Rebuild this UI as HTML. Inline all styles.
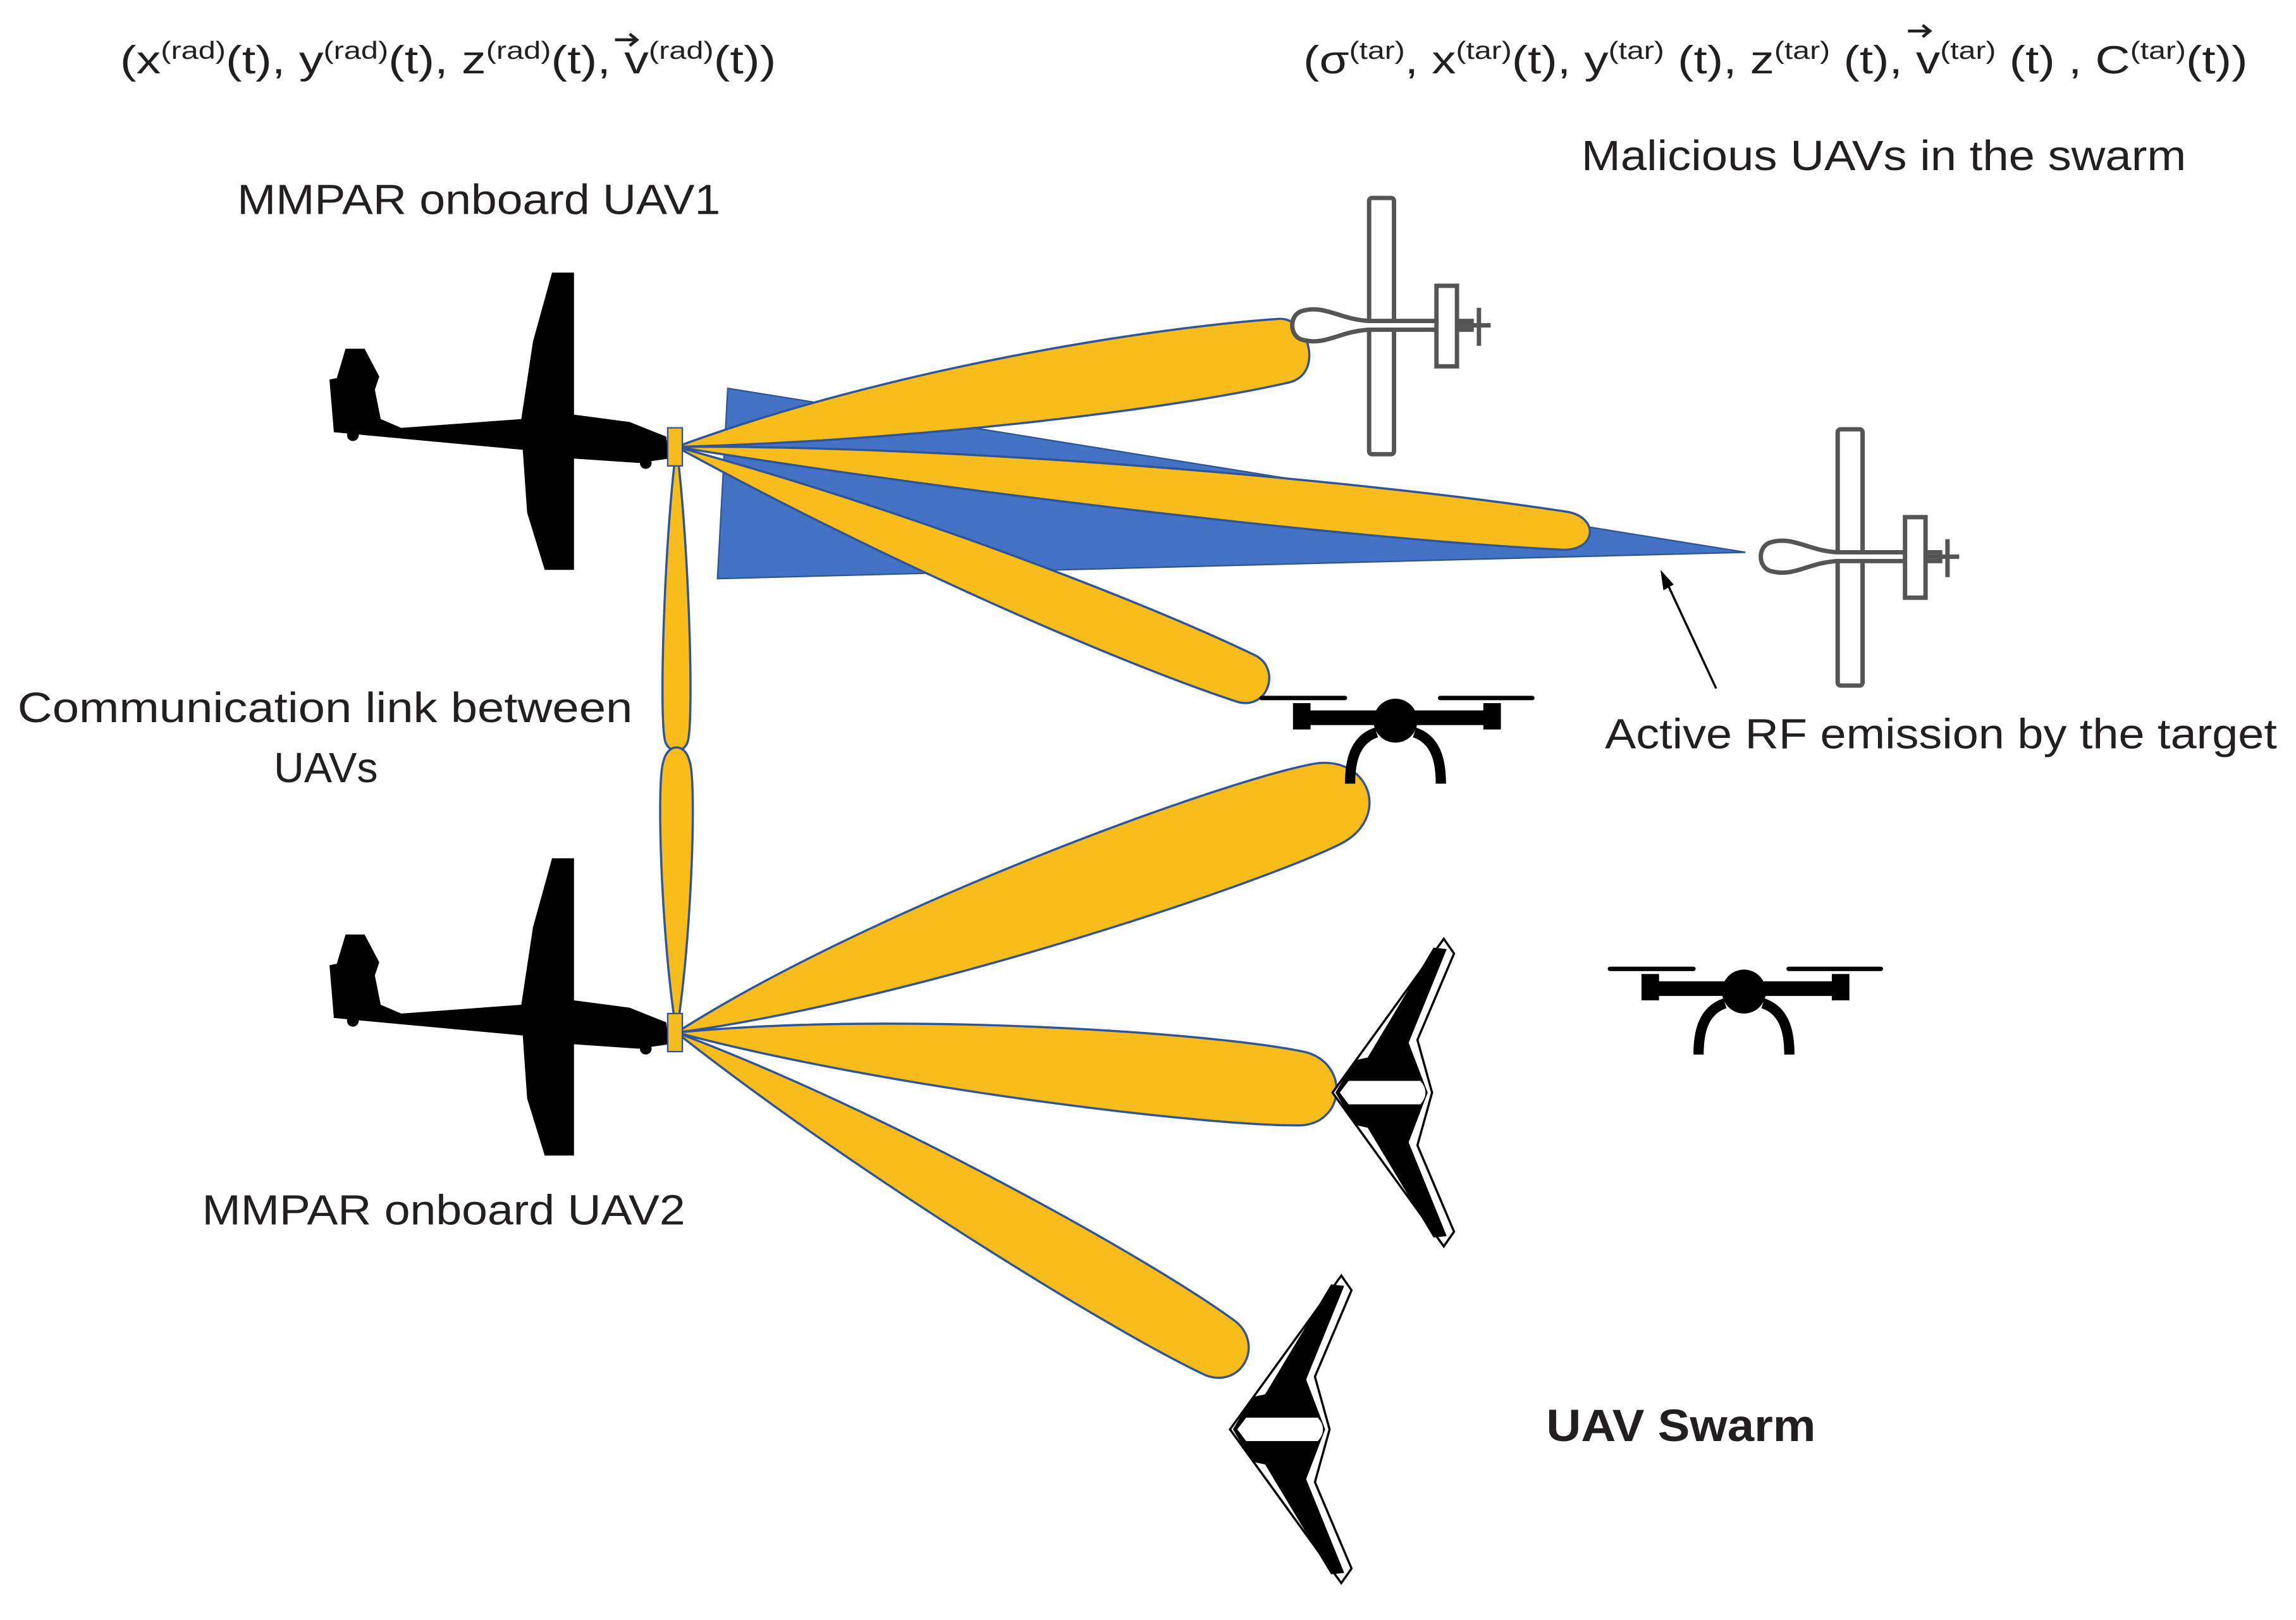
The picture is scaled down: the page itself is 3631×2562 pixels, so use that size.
<!DOCTYPE html>
<html><head><meta charset="utf-8"><style>
html,body{margin:0;padding:0;background:#fff}
svg{display:block}
text{font-family:"Liberation Sans",sans-serif;fill:#231f20}
</style></head><body>
<svg width="3631" height="2562" viewBox="0 0 1568 1106" xmlns="http://www.w3.org/2000/svg">
<defs>
<g id="glider" fill="#000">
 <polygon points="236,238 249,238 259,257 256,266 260,286 274,292 356,286 364,233 377,186 392,186 392,283 430,288 455,298 457,313 436,316 392,313 392,389 372,389 360,350 357,307 249,297 228,295 225,259 230,258"/>
 <circle cx="241" cy="297" r="4"/>
 <circle cx="441" cy="316" r="4"/>
</g>
<g id="outplane" fill="#fff" stroke="#555" stroke-width="3">
 <rect x="935" y="135" width="17" height="175" rx="2"/>
 <path d="M890,212 C880,214 880,230 890,232 C905,236 915,226 935,225 L1005,225 L1005,219 L935,219 C915,218 905,208 890,212 Z"/>
 <rect x="981" y="195" width="14" height="55"/>
 <line x1="1010" y1="210" x2="1010" y2="236"/>
 <line x1="995" y1="222" x2="1018" y2="222"/>
</g>
<g id="quad" fill="#000">
 <rect x="888" y="485" width="132" height="10"/>
 <circle cx="953" cy="492" r="15"/>
 <rect x="883" y="480" width="12" height="18"/>
 <rect x="1013" y="480" width="12" height="18"/>
 <rect x="860" y="475" width="60" height="3" rx="1.5"/>
 <rect x="982" y="475" width="66" height="3" rx="1.5"/>
 <path d="M940,500 C925,505 922,520 922,535" fill="none" stroke="#000" stroke-width="7"/>
 <path d="M966,500 C981,505 984,520 984,535" fill="none" stroke="#000" stroke-width="7"/>
</g>
<g id="fwing">
 <polygon points="910,746 986,641 993,651 968,710 978,746 968,782 993,841 986,851" fill="#fff" stroke="#000" stroke-width="1.5"/>
 <polygon points="912,746 925,724 934,722 979,647 988,648 962,712 975,746 962,780 988,844 979,845 934,770 925,768" fill="#000"/>
 <path d="M921,738 L970,738 Q977,746 970,754 L921,754 L915,746 Z" fill="#fff"/>
</g>
</defs>

<text x="82" y="50" font-size="27" textLength="448" lengthAdjust="spacingAndGlyphs">(x<tspan font-size="17" dy="-10">(rad)</tspan><tspan dy="10">(t), y</tspan><tspan font-size="17" dy="-10">(rad)</tspan><tspan dy="10">(t), z</tspan><tspan font-size="17" dy="-10">(rad)</tspan><tspan dy="10">(t), v</tspan><tspan font-size="17" dy="-10">(rad)</tspan><tspan dy="10">(t))</tspan></text>
<path d="M420,27 L434,27 M430,23 L435,27 L430,31" stroke="#231f20" stroke-width="2" fill="none"/>
<text x="890" y="50" font-size="27" textLength="645" lengthAdjust="spacingAndGlyphs">(σ<tspan font-size="17" dy="-10">(tar)</tspan><tspan dy="10">, x</tspan><tspan font-size="17" dy="-10">(tar)</tspan><tspan dy="10">(t), y</tspan><tspan font-size="17" dy="-10">(tar)</tspan><tspan dy="10"> (t), z</tspan><tspan font-size="17" dy="-10">(tar)</tspan><tspan dy="10"> (t), v</tspan><tspan font-size="17" dy="-10">(tar)</tspan><tspan dy="10"> (t) , C</tspan><tspan font-size="17" dy="-10">(tar)</tspan><tspan dy="10">(t))</tspan></text>
<path d="M1303,21 L1317,21 M1313,17 L1318,21 L1313,25" stroke="#231f20" stroke-width="2" fill="none"/>

<text x="1080" y="116" font-size="29" textLength="413" lengthAdjust="spacingAndGlyphs">Malicious UAVs in the swarm</text>
<text x="162" y="146" font-size="29" textLength="330" lengthAdjust="spacingAndGlyphs">MMPAR onboard UAV1</text>
<text x="12" y="493" font-size="29" textLength="420" lengthAdjust="spacingAndGlyphs">Communication link between</text>
<text x="187" y="534" font-size="29" textLength="71" lengthAdjust="spacingAndGlyphs">UAVs</text>
<text x="1096" y="511" font-size="29" textLength="459" lengthAdjust="spacingAndGlyphs">Active RF emission by the target</text>
<text x="138" y="836" font-size="29" textLength="330" lengthAdjust="spacingAndGlyphs">MMPAR onboard UAV2</text>
<text x="1056" y="984" font-size="31" font-weight="bold" textLength="184" lengthAdjust="spacingAndGlyphs">UAV Swarm</text>

<polygon points="497,265 1192,377 490,395" fill="#4472c4" stroke="#2f5597" stroke-width="1"/>

<g fill="#f8bd1c" stroke="#2f5597" stroke-width="1.5">
 <g transform="translate(462,305) rotate(-9)"><path d="M0,0 C150,-30 330,-30 420,-22 C440,-20 445,20 420,22 C330,28 150,20 0,0 Z"/></g>
 <g transform="translate(462,305) rotate(5.3)"><path d="M0,0 C200,-20 480,-20 610,-12 C632,-10 632,12 610,14 C480,20 200,14 0,0 Z"/></g>
 <g transform="translate(462,305) rotate(22)"><path d="M0,0 C150,-18 330,-22 420,-16 C440,-14 442,16 420,18 C330,24 150,18 0,0 Z"/></g>
 <g transform="translate(462,305) rotate(90)"><path d="M0,0 C60,-8 180,-12 200,-8 C210,-6 210,6 200,8 C180,12 60,8 0,0 Z"/></g>
 <g transform="translate(462,705) rotate(-90)"><path d="M0,0 C60,-10 170,-14 185,-9 C198,-6 198,6 185,9 C170,14 60,10 0,0 Z"/></g>
 <g transform="translate(462,705) rotate(-19.5)"><path d="M0,0 C150,-35 400,-38 470,-28 C510,-22 510,25 470,30 C400,38 150,32 0,0 Z"/></g>
 <g transform="translate(462,705) rotate(5)"><path d="M0,0 C150,-28 370,-32 430,-24 C460,-18 460,22 430,26 C370,32 150,26 0,0 Z"/></g>
 <g transform="translate(462,705) rotate(30)"><path d="M0,0 C150,-25 360,-28 430,-20 C455,-15 455,18 430,22 C360,28 150,22 0,0 Z"/></g>
</g>

<use href="#glider"/>
<use href="#glider" transform="translate(0,400)"/>

<rect x="456" y="292" width="10" height="26" fill="#f8bd1c" stroke="#2f5597" stroke-width="1"/>
<rect x="456" y="692" width="10" height="26" fill="#f8bd1c" stroke="#2f5597" stroke-width="1"/>

<use href="#outplane"/>
<use href="#outplane" transform="translate(320,158)"/>
<use href="#quad"/>
<use href="#quad" transform="translate(238,185)"/>
<use href="#fwing"/>
<use href="#fwing" transform="translate(-70,230)"/>

<line x1="1172" y1="470" x2="1138" y2="397" stroke="#000" stroke-width="1.5"/>
<polygon points="1134,389 1136,403 1143,399" fill="#000"/>
</svg>
</body></html>
